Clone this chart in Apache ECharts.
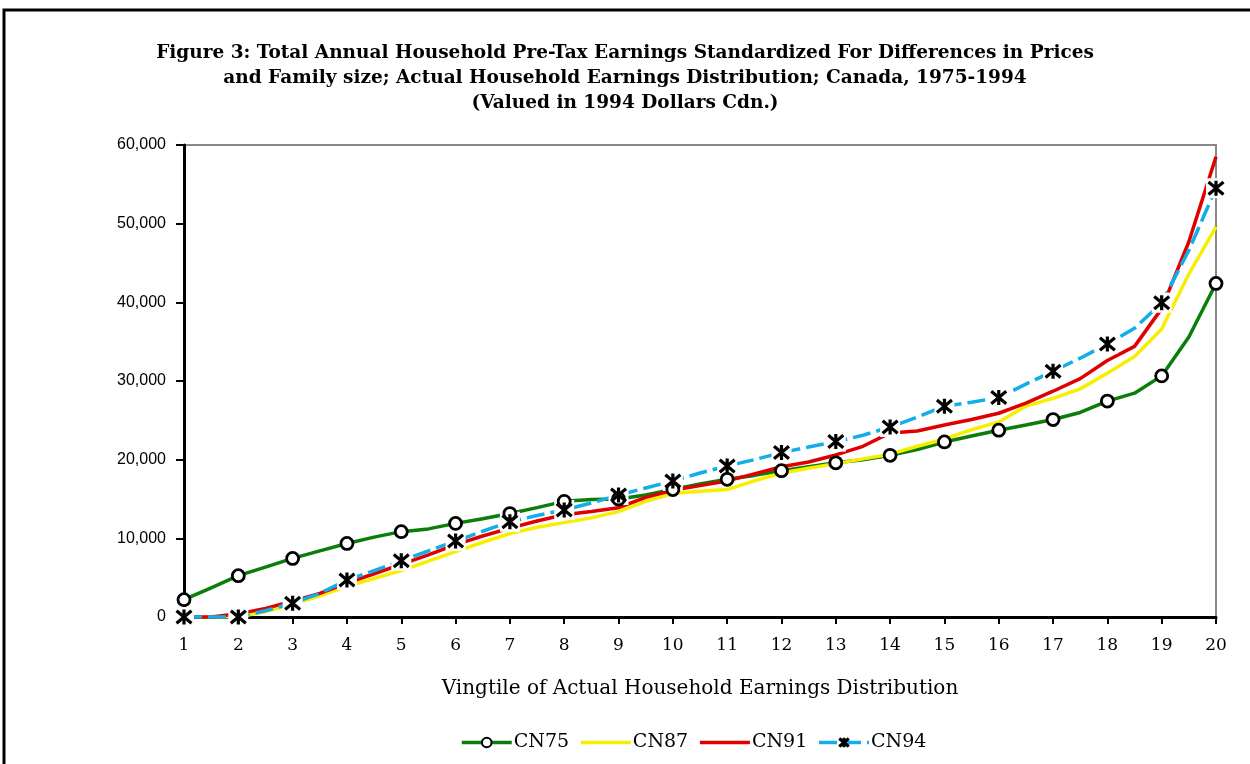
<!DOCTYPE html>
<html><head><meta charset="utf-8">
<script src="https://cdn.jsdelivr.net/npm/echarts@6/dist/echarts.min.js"></script>
<style>html,body{margin:0;padding:0;background:#fff}#c{width:1250px;height:764px}</style>
</head><body><div id="c"></div>
<script>
const vingtiles = [1,1.5,2,2.5,3,3.5,4,4.5,5,5.5,6,6.5,7,7.5,8,8.5,9,9.5,10,10.5,11,11.5,12,12.5,13,13.5,14,14.5,15,15.5,16,16.5,17,17.5,18,18.5,19,19.5,20];
const cn75 = [2200,3700,5250,6350,7450,8400,9350,10150,10850,11200,11900,12500,13150,13900,14700,14950,15000,15500,16200,16900,17500,18000,18600,19100,19600,20000,20550,21300,22250,23000,23750,24400,25100,26000,27450,28450,30650,35600,42400];
const cn87 = [0,0,0,700,1600,2700,3900,4900,5900,7100,8300,9500,10600,11400,12000,12600,13400,14700,15700,16000,16200,17300,18300,18900,19500,20100,20700,21700,22600,23800,24800,26800,27800,29000,31000,33100,36600,43600,49600];
const cn91 = [0,0,400,1100,2000,3000,4300,5500,6700,7900,9200,10300,11300,12200,13000,13400,13900,15200,16100,16700,17300,18200,19100,19700,20600,21700,23400,23650,24400,25100,25900,27200,28700,30300,32600,34400,39200,47700,58500];
const cn94 = [0,0,0,800,1750,3000,4700,5900,7150,8400,9650,10900,12100,12900,13600,14500,15500,16400,17300,18300,19200,20000,20900,21600,22300,23100,24150,25400,26800,27300,27900,29600,31250,32900,34700,36700,39950,46600,54500];
const seriesNames = ['CN75','CN87','CN91','CN94'];
const xTitle = 'Vingtile of Actual Household Earnings Distribution';
const titleLines = ['Figure 3: Total Annual Household Pre-Tax Earnings Standardized For Differences in Prices','and Family size; Actual Household Earnings Distribution; Canada, 1975-1994','(Valued in 1994 Dollars Cdn.)'];

const star = 'path://M0,0 L10,10 M10,0 L0,10 M5,-1 L5,11';
function pts(vals){ return vingtiles.map((x,i)=>({value:[x,vals[i]], symbol:'none'})); }
function intPts(vals){ return vingtiles.map((x,i)=>[x,vals[i]]).filter(p=>Number.isInteger(p[0])); }

const chart = echarts.init(document.getElementById('c'), null, {renderer:'canvas'});
chart.setOption({
  animation:false,
  backgroundColor:'#fff',
  title:{text:titleLines.join('\n'), left:'center', top:36, textStyle:{fontFamily:'DejaVu Serif', fontWeight:'bold', fontSize:18.5, lineHeight:25, color:'#000'}},
  grid:{left:184, right:34, top:145, bottom:147, show:true, borderColor:'#888', borderWidth:2, backgroundColor:'transparent'},
  legend:{top:728, left:455, itemWidth:50, itemHeight:12, itemGap:10,
    data:[
      {name:seriesNames[0]},
      {name:seriesNames[1], itemStyle:{opacity:0}},
      {name:seriesNames[2], itemStyle:{opacity:0}},
      {name:seriesNames[3], itemStyle:{color:'#000', borderColor:'#000', borderWidth:3}}
    ],
    lineStyle:{width:3.5},
    textStyle:{fontFamily:'DejaVu Serif', fontSize:19, color:'#000', padding:[0,0,0,-3]}},
  xAxis:{type:'value', min:1, max:20, interval:1, name:xTitle, nameLocation:'middle', nameGap:62,
    nameTextStyle:{fontFamily:'DejaVu Serif', fontSize:20, color:'#000'},
    axisLine:{lineStyle:{color:'#000', width:3}}, axisTick:{show:true, length:7, lineStyle:{color:'#000', width:2}},
    axisLabel:{fontFamily:'DejaVu Serif', fontSize:17, color:'#000', margin:20}, splitLine:{show:false}},
  yAxis:{type:'value', min:0, max:60000, interval:10000,
    axisLine:{show:true, lineStyle:{color:'#000', width:3}}, axisTick:{show:true, length:8, lineStyle:{color:'#000', width:2}},
    axisLabel:{fontFamily:'Liberation Sans', fontSize:16, color:'#000', margin:18, formatter:v=>v.toLocaleString('en-US')},
    splitLine:{show:false}},
  series:[
    {name:'CN75', type:'line', data:pts(cn75), symbol:'circle', symbolSize:9, lineStyle:{color:'#0b7d0b', width:3.5}, itemStyle:{color:'#fff', borderColor:'#000', borderWidth:2.5}, color:'#0b7d0b', z:2},
    {name:'CN87', type:'line', data:pts(cn87), symbol:'none', lineStyle:{color:'#f7ee00', width:3.5}, color:'#f7ee00', z:2},
    {name:'CN91', type:'line', data:pts(cn91), symbol:'none', lineStyle:{color:'#e00000', width:3.5}, color:'#e00000', z:2},
    {name:'CN94', type:'line', data:pts(cn94), symbol:star, symbolSize:12, lineStyle:{color:'#12aee8', width:3.5, type:[18,6]}, itemStyle:{color:'#000', borderColor:'#000', borderWidth:3}, color:'#12aee8', z:2},
    {name:'box94', type:'scatter', data:intPts(cn94), symbol:'rect', symbolSize:20, itemStyle:{color:'#fff', opacity:1}, z:3, silent:true},
    {name:'m75', type:'scatter', data:intPts(cn75), symbol:'circle', symbolSize:12, itemStyle:{color:'#fff', borderColor:'#000', borderWidth:2.8, opacity:1}, z:4, silent:true},
    {name:'m94', type:'scatter', data:intPts(cn94), symbol:star, symbolSize:15, itemStyle:{color:'#000', borderColor:'#000', borderWidth:3.2, opacity:1}, z:5, silent:true}
  ],
  graphic:[{type:'rect', shape:{x:4, y:10, width:1300, height:800}, style:{fill:'none', stroke:'#000', lineWidth:3}, silent:true, z:10}]
});
</script></body></html>
